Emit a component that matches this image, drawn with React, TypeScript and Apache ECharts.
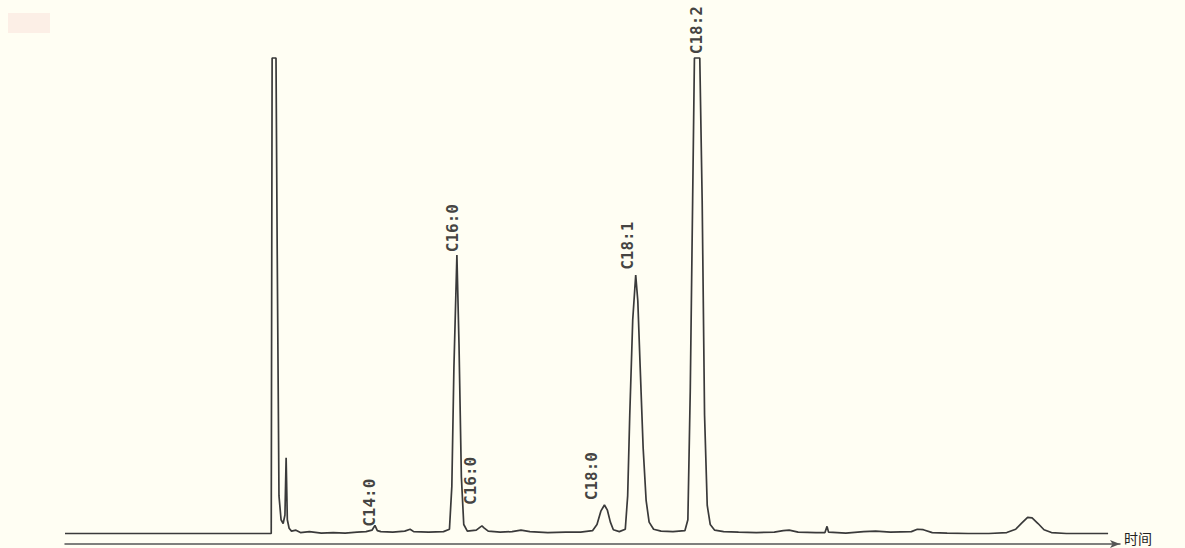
import React, { useEffect, useRef } from "react";
import * as echarts from "echarts";

// Retention time (min) and detector signal (% of full scale, clipped at 100)
const TIME = [
  0, 2, 4, 6, 6.92,
  6.95, 7.08, 7.12, 7.18, 7.25, 7.32, 7.38, 7.42, 7.46, 7.52, 7.6,
  7.75, 7.9, 8.2, 8.6, 9.0, 9.4, 9.8, 10.1, 10.3, 10.4, 10.48, 10.6,
  11.0, 11.4, 11.58, 11.7, 12.2, 12.7, 12.9,
  12.98, 13.05, 13.15, 13.22, 13.3, 13.38, 13.5,
  13.8, 13.92, 13.99, 14.06, 14.2, 14.6, 15.0, 15.3, 15.6, 16.2, 16.8, 17.3, 17.7,
  17.85, 17.98, 18.1, 18.2, 18.3, 18.4, 18.6, 18.8,
  18.88, 18.95, 19.05, 19.15, 19.22, 19.3, 19.4, 19.5, 19.6, 19.75,
  20.0, 20.4, 20.8, 20.9, 20.98, 21.06, 21.12, 21.3, 21.38, 21.46, 21.55, 21.65, 21.8,
  22.1, 22.6, 23.2, 23.8, 24.1, 24.3, 24.6, 25.2, 25.5, 25.57, 25.62,
  26.2, 26.8, 27.2, 27.7, 28.4, 28.6, 28.8, 29.1, 29.6, 30.3, 31.0,
  31.6, 31.9, 32.1, 32.3, 32.45, 32.65, 32.85, 33.1, 33.6, 34.3, 35.0,
];
const SIGNAL = [
  0.1, 0.1, 0.1, 0.1, 0.1,
  100, 100, 60, 8, 3, 2.2, 4, 16, 3, 1.2, 0.6,
  0.8, 0.3, 0.5, 0.2, 0.3, 0.2, 0.4, 0.5, 0.8, 1.8, 0.7, 0.5,
  0.4, 0.6, 1.0, 0.5, 0.4, 0.5, 1,
  10, 35, 58.6, 40, 12, 2, 0.6,
  0.8, 1.4, 1.7, 1.3, 0.6, 0.4, 0.5, 0.8, 0.5, 0.3, 0.4, 0.4, 0.7,
  2, 4.8, 6.1, 5.0, 2.5, 0.9, 0.5, 1,
  8, 25, 45, 54.4, 49, 35, 18, 7, 2.5, 1,
  0.6, 0.5, 0.7, 3, 30, 70, 100, 100, 70, 25, 6, 2, 0.8,
  0.5, 0.4, 0.3, 0.4, 0.7, 0.8, 0.4, 0.3, 0.3, 1.6, 0.4,
  0.2, 0.5, 0.6, 0.4, 0.5, 1.0, 0.9, 0.3, 0.2, 0.1, 0.1,
  0.3, 1.0, 2.3, 3.5, 3.4, 2.2, 0.9, 0.3, 0.1, 0.1, 0.1,
];

// Peak annotations
const LABEL_NAMES = ["C14:0", "C16:0", "C16:0", "C18:0", "C18:1", "C18:2"];
const LABEL_TIME = [10.23, 12.99, 13.59, 17.68, 18.89, 21.2];
const LABEL_HEIGHT = [1.5, 59.2, 6.1, 7.1, 55.5, 100.8];

const AXIS_NAME = "时间";

export default function App() {
  const ref = useRef<HTMLDivElement>(null);

  useEffect(() => {
    document.body.style.margin = "0";
    if (!ref.current) return;
    const chart = echarts.init(ref.current, null, { renderer: "svg" });
    const trace = TIME.map((t, i) => [t, SIGNAL[i]]);
    const labels = LABEL_TIME.map((t, i) => [t, LABEL_HEIGHT[i], LABEL_NAMES[i]]);
    chart.setOption({
      animation: false,
      backgroundColor: "#fffef3",
      graphic: [
        { type: "rect", shape: { x: 8, y: 13, width: 42, height: 20 }, style: { fill: "#fcefe6" } },
        {
          type: "text",
          right: 33,
          bottom: 3,
          style: {
            text: AXIS_NAME,
            fontFamily: "Noto Sans CJK SC",
            fontSize: 14,
            fill: "#222",
          },
        },
      ],
      grid: { left: 65, right: 65, top: 10.4, bottom: 14 },
      xAxis: {
        type: "value",
        min: 0,
        max: 35.4,
        offset: 10,
        axisLine: {
          show: true,
          onZero: false,
          symbol: ["none", "arrow"],
          symbolSize: [6, 10],
          lineStyle: { color: "#555", width: 1.5 },
        },
        axisTick: { show: false },
        axisLabel: { show: false },
        splitLine: { show: false },
      },
      yAxis: {
        type: "value",
        min: 0,
        max: 110,
        show: false,
        splitLine: { show: false },
      },
      series: [
        {
          type: "line",
          data: trace,
          showSymbol: false,
          symbol: "none",
          lineStyle: { color: "#3a3a3a", width: 1.7 },
          clip: false,
        },
        {
          type: "scatter",
          data: labels,
          symbolSize: 0,
          clip: false,
          label: {
            show: true,
            formatter: (p: any) => p.value[2],
            position: "top",
            distance: 0,
            rotate: 90,
            align: "left",
            verticalAlign: "middle",
            fontFamily: "DejaVu Sans Mono",
            fontWeight: "bold",
            fontSize: 16,
            color: "#111",
          },
        },
      ],
    });
    return () => chart.dispose();
  }, []);

  return <div ref={ref} style={{ width: 1185, height: 548 }} />;
}
